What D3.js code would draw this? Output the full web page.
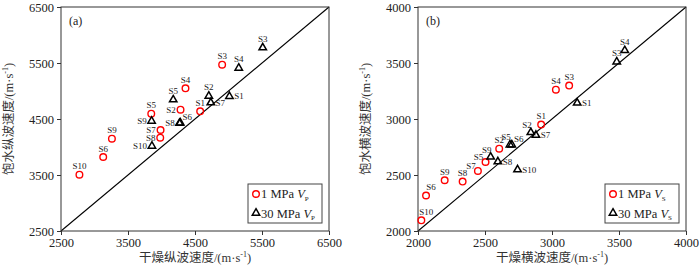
<!DOCTYPE html>
<html><head><meta charset="utf-8">
<script src="https://cdn.jsdelivr.net/npm/d3@7"></script>
<style>body{margin:0;background:#fff}svg{display:block}</style>
</head><body>
<svg id="c" width="700" height="269"></svg>
<script>
// ---- data ----
const pLabels1 = ["S10","S6","S9","S5","S7","S8","S2","S4","S1","S3"];
const pDry1 =    [2775, 3130, 3260, 3847, 3986, 3981, 4284, 4358, 4577, 4905];
const pSat1 =    [3505, 3821, 4149, 4595, 4304, 4167, 4667, 5048, 4637, 5470];
const pPos1 =    ["t","t","t","t","l","l","l","t","t","t"];

const pLabels30 = ["S10","S9","S5","S8","S6","S2","S7","S1","S4","S3"];
const pDry30 =    [3857, 3852, 4175, 4268, 4280, 4706, 4736, 5014, 5153, 5511];
const pSat30 =    [4018, 4464, 4845, 4425, 4433, 4911, 4792, 4905, 5411, 5774];
const pPos30 =    ["l","l","t","l","tr","t","r","r","t","t"];

const sLabels1 = ["S10","S6","S9","S8","S7","S5","S2","S1","S4","S3"];
const sDry1 =    [2025, 2060, 2199, 2333, 2447, 2504, 2606, 2919, 3029, 3128];
const sSat1 =    [2095, 2317, 2453, 2441, 2536, 2616, 2735, 2951, 3262, 3298];
const sPos1 =    ["t2r","t2r","t","t","tl","tl","t","t","t","t"];

const sLabels30 = ["S9","S8","S10","S5","S6","S2","S7","S1","S3","S4"];
const sDry30 =    [2542, 2596, 2743, 2686, 2700, 2842, 2880, 3188, 3483, 3543];
const sSat30 =    [2661, 2619, 2548, 2770, 2770, 2880, 2856, 3144, 3511, 3612];
const sPos30 =    ["ntl","r","r","ntl","tr","ntl","r","r","t","t"];

const pTicks = [2500, 3500, 4500, 5500, 6500];
const sTicks = [2000, 2500, 3000, 3500, 4000];

const panels = [
  {tag:"(a)", dom:[2500,6500], ticks:pTicks, x0:61, x1:329,
   xt:"干燥纵波速度/(m·s", yt:"饱水纵波速度/(m·s", sub:"P",
   s1:{lab:pLabels1, x:pDry1, y:pSat1, pos:pPos1},
   s2:{lab:pLabels30, x:pDry30, y:pSat30, pos:pPos30}},
  {tag:"(b)", dom:[2000,4000], ticks:sTicks, x0:418, x1:686,
   xt:"干燥横波速度/(m·s", yt:"饱水横波速度/(m·s", sub:"S",
   s1:{lab:sLabels1, x:sDry1, y:sSat1, pos:sPos1},
   s2:{lab:sLabels30, x:sDry30, y:sSat30, pos:sPos30}}
];

const svg = d3.select("#c");
const FONT = "'Liberation Serif','Times New Roman','Noto Sans CJK SC',serif";
const yTop = 7, yBot = 231;
const off = {
  t:[0,-5.5,"middle"], l:[-4.8,3,"end"], r:[4.8,3,"start"],
  tl:[-7,-2.3,"middle"], tr:[7,-2.5,"middle"], ntl:[-3.8,-4.3,"middle"],
  t2r:[5,-5.3,"middle"]
};

panels.forEach(p => {
  const x = d3.scaleLinear().domain(p.dom).range([p.x0, p.x1]);
  const y = d3.scaleLinear().domain(p.dom).range([yBot, yTop]);
  const g = svg.append("g");

  // diagonal
  g.append("line").attr("x1", x(p.dom[0])).attr("y1", y(p.dom[0]))
    .attr("x2", x(p.dom[1])).attr("y2", y(p.dom[1]))
    .attr("stroke", "#000").attr("stroke-width", 1.1);

  // axes
  const fmt = d3.format("d");
  const ax = g.append("g").attr("transform", `translate(0,${yBot})`)
    .call(d3.axisBottom(x).tickValues(p.ticks).tickFormat(fmt).tickSize(4).tickSizeOuter(0).tickPadding(3));
  const ay = g.append("g").attr("transform", `translate(${p.x0},0)`)
    .call(d3.axisLeft(y).tickValues(p.ticks).tickFormat(fmt).tickSize(4).tickSizeOuter(0).tickPadding(3));
  [ax, ay].forEach(a => {
    a.selectAll("text").attr("font-family", FONT).attr("font-size", 12.5).attr("fill", "#222");
    a.selectAll("line,path").attr("stroke", "#333");
    a.select(".domain").remove();
  });
  // frame
  g.append("rect").attr("x", p.x0).attr("y", yTop).attr("width", p.x1 - p.x0)
    .attr("height", yBot - yTop).attr("fill", "none").attr("stroke", "#333").attr("stroke-width", 1);

  g.append("text").attr("x", p.x0 + 8).attr("y", yTop + 18).text(p.tag)
    .attr("font-family", FONT).attr("font-size", 12).attr("fill", "#222");

  // axis titles
  const xtT = g.append("text").attr("x", (p.x0 + p.x1) / 2).attr("y", 262)
    .attr("text-anchor", "middle").attr("font-family", FONT).attr("font-size", 12.5).attr("fill", "#333");
  xtT.append("tspan").text(p.xt);
  xtT.append("tspan").text("-1").attr("font-size", 8).attr("dy", -5);
  xtT.append("tspan").text(")").attr("dy", 5);
  const ytT = g.append("text").attr("transform", `translate(${p.x0 - 48},${(yTop + yBot) / 2}) rotate(-90)`)
    .attr("text-anchor", "middle").attr("font-family", FONT).attr("font-size", 12.5).attr("fill", "#333");
  ytT.append("tspan").text(p.yt);
  ytT.append("tspan").text("-1").attr("font-size", 8).attr("dy", -5);
  ytT.append("tspan").text(")").attr("dy", 5);

  const d1 = p.s1.lab.map((l, i) => ({l, x: p.s1.x[i], y: p.s1.y[i], pos: p.s1.pos[i]}));
  const d2 = p.s2.lab.map((l, i) => ({l, x: p.s2.x[i], y: p.s2.y[i], pos: p.s2.pos[i]}));
  const tri = d3.symbol().type(d3.symbolTriangle).size(24);

  g.selectAll(".c1").data(d1).join("circle")
    .attr("cx", d => x(d.x)).attr("cy", d => y(d.y)).attr("r", 3.3)
    .attr("fill", "none").attr("stroke", "#ff0000").attr("stroke-width", 1.4);
  g.selectAll(".t2").data(d2).join("path")
    .attr("d", tri).attr("transform", d => `translate(${x(d.x)},${y(d.y)})`)
    .attr("fill", "none").attr("stroke", "#000").attr("stroke-width", 1.5);

  [...d1, ...d2].forEach(d => {
    const o = off[d.pos];
    g.append("text").attr("x", x(d.x) + o[0]).attr("y", y(d.y) + o[1])
      .attr("text-anchor", o[2]).text(d.l)
      .attr("font-family", FONT).attr("font-size", 9).attr("fill", "#222");
  });

  // legend
  const lx = p.x1 - 81, ly = 184;
  g.append("rect").attr("x", lx).attr("y", ly).attr("width", 74).attr("height", 39)
    .attr("fill", "#fff").attr("stroke", "#444").attr("stroke-width", 1);
  g.append("circle").attr("cx", lx + 8).attr("cy", ly + 10).attr("r", 3.3)
    .attr("fill", "none").attr("stroke", "#ff0000").attr("stroke-width", 1.4);
  g.append("path").attr("d", tri).attr("transform", `translate(${lx + 8},${ly + 29})`)
    .attr("fill", "none").attr("stroke", "#000").attr("stroke-width", 1.5);
  ["1 MPa ", "30 MPa "].forEach((t, i) => {
    const tt = g.append("text").attr("x", lx + 13).attr("y", ly + 14 + i * 19.5)
      .attr("font-family", FONT).attr("font-size", 12.5).attr("fill", "#222");
    tt.append("tspan").text(t);
    tt.append("tspan").text("V").attr("font-style", "italic");
    tt.append("tspan").text(p.sub).attr("font-size", 7).attr("dy", 2.5);
  });
});
</script>
</body></html>
